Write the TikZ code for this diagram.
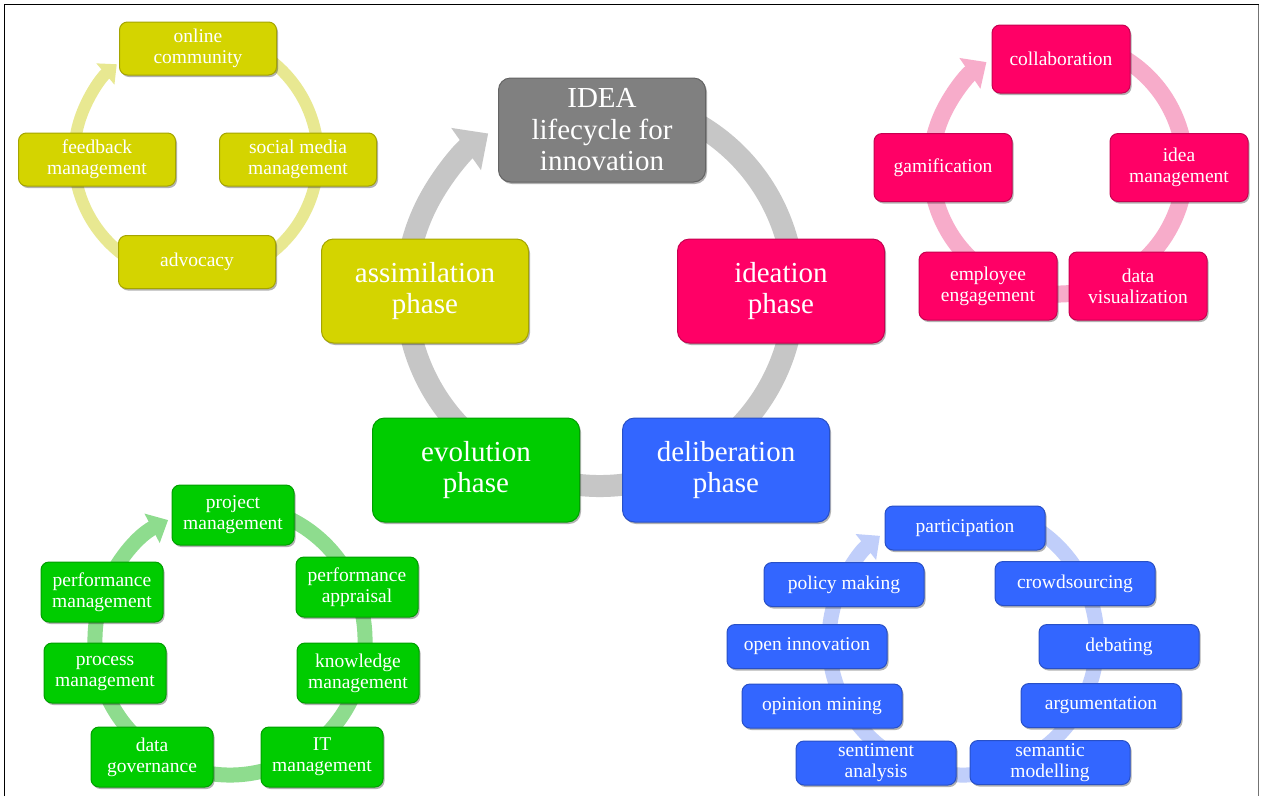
\documentclass[tikz,border=0pt]{standalone}
\usepackage{fontspec}
\setmainfont{Liberation Serif}
\usetikzlibrary{arrows.meta,shadows}
\definecolor{cgray}{RGB}{128,128,128}
\definecolor{cyellow}{RGB}{212,212,0}
\definecolor{cpink}{RGB}{255,0,102}
\definecolor{cgreen}{RGB}{0,204,0}
\definecolor{cblue}{RGB}{51,102,255}
\definecolor{rgray}{RGB}{198,198,198}
\definecolor{ryellow}{RGB}{232,232,145}
\definecolor{rpink}{RGB}{247,172,202}
\definecolor{rgreen}{RGB}{142,220,142}
\definecolor{rblue}{RGB}{192,206,250}
\tikzset{
  boxbase/.style={draw=#1!78!black, fill=#1, line width=1pt, text=white, align=center, inner sep=0pt,
    drop shadow={shadow xshift=1.5pt, shadow yshift=-2pt, opacity=0.3, fill=black}},
  bigbox/.style={boxbase=#1, rounded corners=12pt, minimum width=207pt, minimum height=104pt,
    font=\fontsize{29}{31.5}\selectfont},
  smallbox/.style={boxbase=#1, rounded corners=8pt, font=\fontsize{19.5}{21}\selectfont},
  ybox/.style={smallbox=cyellow, minimum width=157pt, minimum height=53pt},
  pbox/.style={smallbox=cpink, minimum width=138pt, minimum height=68pt},
  gbox/.style={smallbox=cgreen, minimum width=122pt, minimum height=60pt},
  bbox/.style={smallbox=cblue, minimum width=160pt, minimum height=44pt},
  ringline/.style={draw=#1, line cap=butt},
}
\begin{document}
\begin{tikzpicture}[x=1pt,y=-1pt]
\useasboundingbox (0,0) rectangle (1261,796);
\fill[white] (0,0) rectangle (1261,796);
% frame
\draw[line width=1.5pt, black] (4.5,796) -- (4.5,4.5) -- (1258.5,4.5);
\draw[line width=1.5pt, black!55] (1258.5,4.5) -- (1258.5,796);

% ring centres
\coordinate (cc) at (600,292);
\coordinate (yc) at (196,157);
\coordinate (pc) at (1058,167);
\coordinate (gc) at (230,640);
\coordinate (bc) at (963,641);

% rings
\draw[ringline=rgray, line width=22pt, -{Triangle[width=50pt,length=27pt]}]
  (cc) ++(-62:194) arc[start angle=-62, end angle=234.8, radius=194];
\draw[ringline=ryellow, line width=12pt, -{Triangle[width=27pt,length=15pt]}]
  (yc) ++(-70:122) arc[start angle=-70, end angle=229.5, radius=122];
\draw[ringline=rpink, line width=17pt, -{Triangle[width=36pt,length=20pt]}]
  (pc) ++(-65:127) arc[start angle=-65, end angle=235.7, radius=127];
\draw[ringline=rgreen, line width=15pt, -{Triangle[width=32pt,length=18pt]}]
  (gc) ++(-70:135) arc[start angle=-70, end angle=242.7, radius=135];
\draw[ringline=rblue, line width=15pt, -{Triangle[width=32pt,length=18pt]}]
  (bc) ++(-70:134) arc[start angle=-70, end angle=231.7, radius=134];

% central cycle
\node[bigbox=cgray]   (idea)  at (602,130) {IDEA\\lifecycle for\\innovation};
\node[bigbox=cyellow] (assim) at (425,291) {assimilation\\phase};
\node[bigbox=cpink]   (ideat) at (781,291) {ideation\\phase};
\node[bigbox=cgreen]  (evol)  at (476,470) {evolution\\phase};
\node[bigbox=cblue]   (delib) at (726,470) {deliberation\\phase};

% yellow cycle
\node[ybox] (ycom) at (198,48.5) {online\\community};
\node[ybox] (ysoc) at (298,159.5) {social media\\management};
\node[ybox] (yadv) at (197,262) {advocacy};
\node[ybox] (yfee) at (97,159.5) {feedback\\management};

% pink cycle
\node[pbox] (pcol) at (1061,59) {collaboration};
\node[pbox] (pide) at (1179,167.5) {idea\\management};
\node[pbox] (pdat) at (1138,286) {data\\visualization};
\node[pbox] (pemp) at (988,286) {employee\\engagement};
\node[pbox] (pgam) at (943,167.5) {gamification};

% green cycle
\node[gbox] (gpro) at (233,515) {project\\management};
\node[gbox] (gapp) at (357,587) {performance\\appraisal};
\node[gbox] (gkno) at (358,673) {knowledge\\management};
\node[gbox] (git)  at (322,757) {IT\\management};
\node[gbox] (ggov) at (152,757) {data\\governance};
\node[gbox] (gpcs) at (105,673) {process\\management};
\node[gbox] (gprf) at (102,592) {performance\\management};

% blue cycle
\node[bbox] (bpar) at (965,528) {participation};
\node[bbox] (bcro) at (1075,583.5) {crowdsourcing};
\node[bbox] (bdeb) at (1119,646.5) {debating};
\node[bbox] (barg) at (1101,705.5) {argumentation};
\node[bbox] (bsem) at (1050,762.5) {semantic\\modelling};
\node[bbox] (bsen) at (876,763) {sentiment\\analysis};
\node[bbox] (bopi) at (822,706) {opinion mining};
\node[bbox] (bope) at (807,646.5) {open innovation};
\node[bbox] (bpol) at (844,584.5) {policy making};
\end{tikzpicture}
\end{document}
